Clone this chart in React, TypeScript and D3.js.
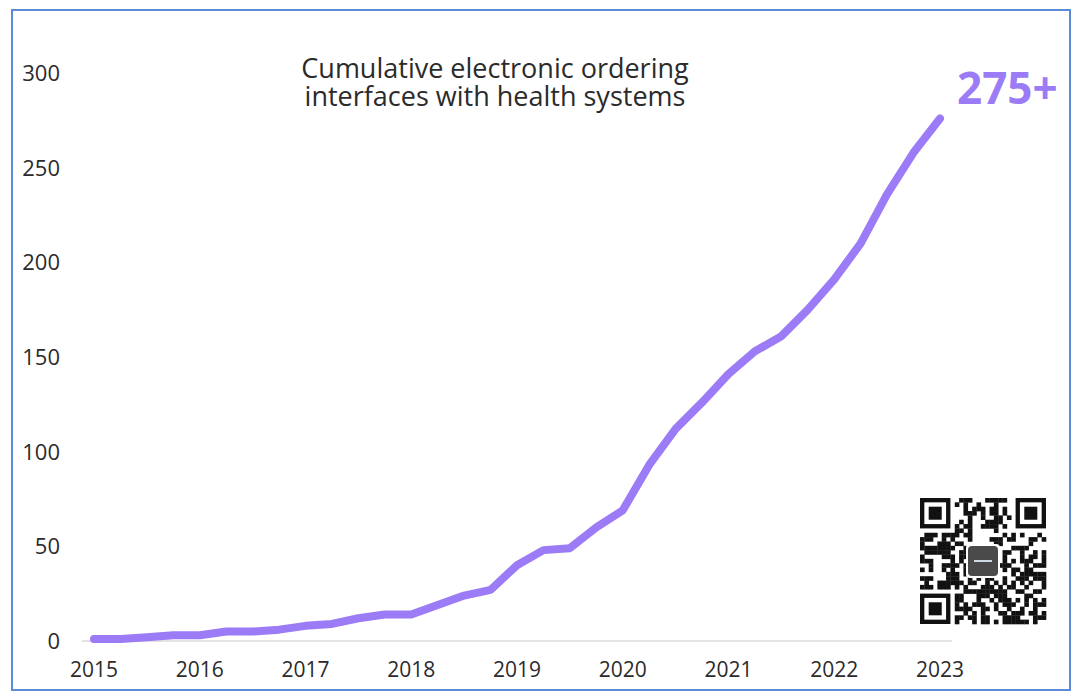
import React from "react";
import * as d3 from "d3";

const quarters: number[] = [
  2015.0, 2015.25, 2015.5, 2015.75,
  2016.0, 2016.25, 2016.5, 2016.75,
  2017.0, 2017.25, 2017.5, 2017.75,
  2018.0, 2018.25, 2018.5, 2018.75,
  2019.0, 2019.25, 2019.5, 2019.75,
  2020.0, 2020.25, 2020.5, 2020.75,
  2021.0, 2021.25, 2021.5, 2021.75,
  2022.0, 2022.25, 2022.5, 2022.75,
  2023.0,
];
const interfaces: number[] = [
  1, 1, 2, 3,
  3, 5, 5, 6,
  8, 9, 12, 14,
  14, 19, 24, 27,
  40, 48, 49, 60,
  69, 93, 112, 126,
  141, 153, 161, 175,
  191, 210, 236, 258,
  276,
];
const yearTicks: number[] = [2015, 2016, 2017, 2018, 2019, 2020, 2021, 2022, 2023];
const valueTicks: number[] = [0, 50, 100, 150, 200, 250, 300];
const titleLines: string[] = ["Cumulative electronic ordering", "interfaces with health systems"];
const endLabel = "275+";

const W = 1080;
const H = 700;
const PURPLE = "#9b7bf6";
const TEXT = "#2b2b2b";
const FONT = "'Open Sans', 'DejaVu Sans', sans-serif";

// simple decorative QR-like pattern
const QR_N = 29;
function qrCells(): [number, number][] {
  const cells: [number, number][] = [];
  const inFinder = (r: number, c: number) =>
    (r < 8 && c < 8) || (r < 8 && c >= QR_N - 8) || (r >= QR_N - 8 && c < 8);
  for (let r = 0; r < QR_N; r++) {
    for (let c = 0; c < QR_N; c++) {
      if (inFinder(r, c)) continue;
      const h = Math.sin(r * 12.9898 + c * 78.233) * 43758.5453;
      const v = h - Math.floor(h);
      if (v > 0.52) cells.push([r, c]);
    }
  }
  return cells;
}

export default function App() {
  const x = d3.scaleLinear().domain([2015, 2023]).range([94, 940]);
  const y = d3.scaleLinear().domain([0, 300]).range([641, 73]);
  const line = d3
    .line<number>()
    .x((_, i) => x(quarters[i]))
    .y((d) => y(d));

  const qx = 920;
  const qy = 498;
  const qs = 126;
  const cell = qs / QR_N;
  const cells = qrCells();
  const finders: [number, number][] = [
    [0, 0],
    [0, QR_N - 7],
    [QR_N - 7, 0],
  ];

  return (
    <svg
      width={W}
      height={H}
      viewBox={`0 0 ${W} ${H}`}
      style={{ position: "absolute", left: 0, top: 0, display: "block", background: "#fff" }}
    >
      <rect x={0} y={0} width={W} height={H} fill="#fff" />
      <rect x={12} y={10} width={1058} height={680} fill="none" stroke="#5b8ad8" strokeWidth={2} />

      {/* baseline */}
      <line x1={82} x2={952} y1={y(0)} y2={y(0)} stroke="#e3e3e3" strokeWidth={2} />

      {/* y labels */}
      {valueTicks.map((v) => (
        <text
          key={v}
          x={60}
          y={y(v)}
          dy="0.36em"
          textAnchor="end"
          fontFamily={FONT}
          fontSize={22}
          fill={TEXT}
        >
          {v}
        </text>
      ))}

      {/* x labels */}
      {yearTicks.map((t) => (
        <text
          key={t}
          x={x(t)}
          y={677}
          textAnchor="middle"
          fontFamily={FONT}
          fontSize={21}
          fill={TEXT}
        >
          {t}
        </text>
      ))}

      {/* title */}
      {titleLines.map((s, i) => (
        <text
          key={i}
          x={495}
          y={78 + i * 28}
          textAnchor="middle"
          fontFamily={FONT}
          fontSize={27}
          fill={TEXT}
        >
          {s}
        </text>
      ))}

      {/* line */}
      <path
        d={line(interfaces) || ""}
        fill="none"
        stroke={PURPLE}
        strokeWidth={8}
        strokeLinecap="round"
        strokeLinejoin="round"
      />

      <text
        x={957}
        y={104}
        fontFamily={FONT}
        fontWeight={700}
        fontSize={44}
        fill={PURPLE}
      >
        {endLabel}
      </text>

      {/* QR code decoration */}
      <g>
        {cells.map(([r, c], i) => (
          <rect key={i} x={qx + c * cell} y={qy + r * cell} width={cell + 0.3} height={cell + 0.3} fill="#111" />
        ))}
        {finders.map(([r, c], i) => (
          <g key={"f" + i}>
            <rect x={qx + c * cell} y={qy + r * cell} width={7 * cell} height={7 * cell} fill="#111" />
            <rect x={qx + (c + 1) * cell} y={qy + (r + 1) * cell} width={5 * cell} height={5 * cell} fill="#fff" />
            <rect x={qx + (c + 2) * cell} y={qy + (r + 2) * cell} width={3 * cell} height={3 * cell} fill="#111" />
          </g>
        ))}
        <rect x={qx + qs / 2 - 17} y={qy + qs / 2 - 17} width={34} height={34} rx={4} fill="#fff" />
        <rect x={qx + qs / 2 - 15} y={qy + qs / 2 - 15} width={30} height={30} rx={4} fill="#4a4a4a" />
        <rect x={qx + qs / 2 - 9} y={qy + qs / 2 - 1} width={18} height={2} fill="#cfd8e6" />
      </g>
    </svg>
  );
}
